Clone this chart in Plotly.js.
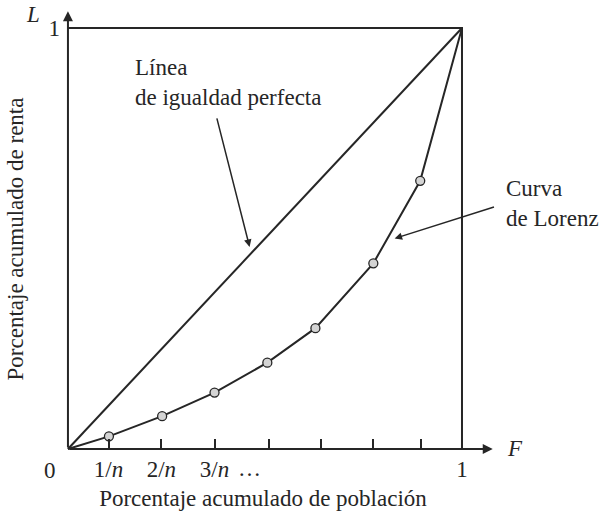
<!DOCTYPE html>
<html>
<head>
<meta charset="utf-8">
<script src="https://cdn.plot.ly/plotly-3.0.1.min.js"></script>
<style>html,body{margin:0;padding:0;background:#fff;}#chart{width:601px;height:513px;}</style>
</head>
<body>
<div id="chart"></div>
<script>
// Lorenz curve data (cumulative population share, cumulative income share)
const lorenzX = [0, 0.104, 0.239, 0.372, 0.506, 0.628, 0.775, 0.894, 1];
const lorenzY = [0, 0.030, 0.078, 0.134, 0.205, 0.287, 0.441, 0.637, 1];
// Line of perfect equality
const equalX = [0, 1];
const equalY = [0, 1];
// Box edges
const boxX = [0, 1, 1];
const boxY = [1, 1, 0];
// Tick marks and labels on F axis
const tickVals = [0.103, 0.237, 0.372, 0.509, 0.641, 0.773, 0.895, 1];
const tickText = ['1/<i>n</i>', '2/<i>n</i>', '3/<i>n</i>', '', '', '', '', '1'];

const ink = '#262626';
const fam = '"Liberation Serif", "Times New Roman", serif';
const F = (s) => ({family: fam, size: s, color: ink});
const FS = 23;

const traces = [
  {x: boxX, y: boxY, mode: 'lines', line: {color: ink, width: 2}, hoverinfo: 'skip', cliponaxis: false},
  {x: equalX, y: equalY, mode: 'lines', line: {color: ink, width: 2}, hoverinfo: 'skip'},
  {x: lorenzX, y: lorenzY, mode: 'lines', line: {color: ink, width: 2}, hoverinfo: 'skip'},
  {x: lorenzX.slice(1, -1), y: lorenzY.slice(1, -1), mode: 'markers',
   marker: {size: 9, color: '#d4d4d4', line: {color: ink, width: 1.3}}, hoverinfo: 'skip'}
];

const layout = {
  width: 601, height: 513,
  margin: {l: 25, r: 100, t: 11, b: 46},
  paper_bgcolor: '#fff', plot_bgcolor: '#fff',
  showlegend: false,
  font: F(FS),
  xaxis: {
    range: [-0.109, 1.099], showgrid: false, zeroline: false, showline: false,
    anchor: 'free', position: 0.0395,
    tickvals: tickVals, ticktext: tickText, ticks: 'inside', ticklen: 10, tickwidth: 2, tickcolor: ink,
    tickfont: F(FS), ticklabelstandoff: 4, automargin: false,
    title: {text: 'Porcentaje acumulado de población', font: F(FS), standoff: 8},
    fixedrange: true
  },
  yaxis: {
    range: [-0.0428, 1.0404], showgrid: false, zeroline: false, showline: false,
    anchor: 'free', position: 0.0903, automargin: false,
    tickvals: [1], ticktext: ['1'], ticks: '', ticklabelstandoff: 8,
    tickfont: F(FS),
    title: {text: 'Porcentaje acumulado de renta', font: F(FS), standoff: 17},
    fixedrange: true
  },
  annotations: [
    // axes with arrowheads
    {x: 1.078, y: 0, ax: 0, ay: 0, xref: 'x', yref: 'y', axref: 'x', ayref: 'y', text: '', showarrow: true,
     arrowhead: 2, arrowsize: 1, arrowwidth: 2, arrowcolor: ink, standoff: 0},
    {x: 0, y: 1.04, ax: 0, ay: 0, xref: 'x', yref: 'y', axref: 'x', ayref: 'y', text: '', showarrow: true,
     arrowhead: 2, arrowsize: 1, arrowwidth: 2, arrowcolor: ink, standoff: 0},
    // axis letters
    {x: 1.078, y: 0, xref: 'x', yref: 'y', text: '<i>F</i>', showarrow: false, xanchor: 'left', yanchor: 'middle', xshift: 12, font: F(FS)},
    {x: -0.089, y: 1.031, xref: 'x', yref: 'y', text: '<i>L</i>', showarrow: false, xanchor: 'center', yanchor: 'middle', font: F(FS)},
    // origin and ellipsis
    {x: 0, y: 0, xref: 'x', yref: 'y', text: '0', showarrow: false, xanchor: 'center', yanchor: 'middle', xshift: -18, yshift: -22, font: F(FS)},
    {x: 0.46, y: 0, xref: 'x', yref: 'y', text: '…', showarrow: false, xanchor: 'center', yanchor: 'middle', yshift: -20, font: F(FS)},
    // labels
    {x: 0.165, y: 0.87, xref: 'x', yref: 'y', text: 'Línea<br>de igualdad perfecta', align: 'left', xanchor: 'left', yanchor: 'middle',
     showarrow: false, font: F(FS)},
    {x: 0.461, y: 0.480, ax: 0.377, ay: 0.789, xref: 'x', yref: 'y', axref: 'x', ayref: 'y', text: '',
     showarrow: true, arrowhead: 2, arrowsize: 1, arrowwidth: 1.5, arrowcolor: ink, standoff: 0},
    {x: 1.006, y: 0.578, xref: 'paper', yref: 'paper', text: 'Curva<br>de Lorenz', align: 'left', xanchor: 'left', yanchor: 'middle',
     showarrow: false, font: F(FS)},
    {x: 0.829, y: 0.500, ax: 1.085, ay: 0.576, xref: 'x', yref: 'y', axref: 'x', ayref: 'y', text: '',
     showarrow: true, arrowhead: 2, arrowsize: 1, arrowwidth: 1.5, arrowcolor: ink, standoff: 0}
  ]
};

Plotly.newPlot('chart', traces, layout, {displayModeBar: false, staticPlot: true});
</script>
</body>
</html>
